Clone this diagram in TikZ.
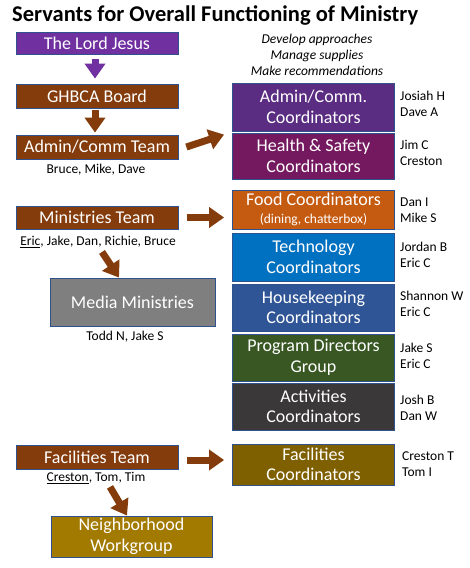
\documentclass[tikz,border=0pt]{standalone}
\usepackage{fontspec}
\setmainfont{Carlito}
\usetikzlibrary{arrows.meta}
\definecolor{bordc}{HTML}{2F528F}
\definecolor{cLord}{HTML}{7030A0}
\definecolor{cBrown}{HTML}{843C0C}
\definecolor{cAdmin}{HTML}{5A2C82}
\definecolor{cHealth}{HTML}{74195F}
\definecolor{cFood}{HTML}{C55A11}
\definecolor{cTech}{HTML}{0070C0}
\definecolor{cHouse}{HTML}{2F5597}
\definecolor{cProg}{HTML}{385723}
\definecolor{cAct}{HTML}{3A3838}
\definecolor{cMedia}{HTML}{7F7F7F}
\definecolor{cFacC}{HTML}{7F6000}
\definecolor{cNeigh}{HTML}{A27A00}
\tikzset{
  box/.style={draw=bordc, line width=0.8pt, text=white, inner sep=0pt, align=center,
    font=\fontsize{18}{20.5}\selectfont},
  lbox/.style={box, minimum width=162pt},
  rbox/.style={box, minimum width=162pt},
  names/.style={inner sep=0pt, align=left, anchor=west, font=\fontsize{13.5}{16}\selectfont},
  sub/.style={inner sep=0pt, align=center, font=\fontsize{13.5}{16}\selectfont},
  blockarrow/.style={line width=7pt, -{Triangle[width=20pt,length=15pt]}},
}
\begin{document}
\begin{tikzpicture}[x=1pt,y=-1pt]
\useasboundingbox (0,0) rectangle (470,568);
\node[anchor=west, inner sep=0pt, font=\bfseries\fontsize{22.5}{26}\selectfont] (title) at (12,15) {Servants for Overall Functioning of Ministry};

% left column
\node[lbox, fill=cLord, minimum height=22pt] (lord) at (97,43) {The Lord Jesus};
\node[lbox, fill=cBrown, minimum height=24pt] (board) at (97,96) {GHBCA Board};
\node[lbox, fill=cBrown, minimum height=24pt] (act) at (97,147) {Admin/Comm Team};
\node[sub] (actn) at (96,170) {Bruce, Mike, Dave};
\node[lbox, fill=cBrown, minimum height=23pt] (mt) at (97,217.5) {Ministries Team};
\node[sub] (mtn) at (98,242) {\underline{Eric}, Jake, Dan, Richie, Bruce};
\node[box, fill=cMedia, minimum width=165pt, minimum height=48pt] (media) at (132.5,302) {Media Ministries};
\node[sub] (median) at (125,337) {Todd N, Jake S};
\node[lbox, fill=cBrown, minimum height=24pt] (ft) at (97,457) {Facilities Team};
\node[sub] (ftn) at (96,478) {\underline{Creston}, Tom, Tim};
\node[box, fill=cNeigh, minimum width=161pt, minimum height=41pt] (nw) at (131.5,536.5) {Neighborhood\\Workgroup};

% right column
\node[sub, font=\itshape\fontsize{13.5}{16}\selectfont] (tasks) at (317,55) {Develop approaches\\Manage supplies\\Make recommendations};
\node[rbox, fill=cAdmin, minimum height=48pt] (acc) at (313.5,107) {Admin/Comm.\\Coordinators};
\node[rbox, fill=cHealth, minimum height=46pt] (hs) at (313.5,156) {Health \& Safety\\Coordinators};
\node[rbox, fill=cFood, minimum height=39pt] (food) at (313.5,209.5) {Food Coordinators\\[-3pt]{\fontsize{13.5}{16}\selectfont (dining, chatterbox)}};
\node[rbox, fill=cTech, minimum height=48pt] (tech) at (313.5,257) {Technology\\Coordinators};
\node[rbox, fill=cHouse, minimum height=47pt] (house) at (313.5,307.5) {Housekeeping\\Coordinators};
\node[rbox, fill=cProg, minimum height=47pt] (prog) at (313.5,357.5) {Program Directors\\Group};
\node[rbox, fill=cAct, minimum height=47pt] (acts) at (313.5,406.5) {Activities\\Coordinators};
\node[rbox, fill=cFacC, minimum height=41pt] (fc) at (313.5,464.5) {Facilities\\Coordinators};

\node[names] (n1) at (400,104) {Josiah H\\Dave A};
\node[names] (n2) at (400,153) {Jim C\\Creston};
\node[names] (n3) at (400,210) {Dan I\\Mike S};
\node[names] (n4) at (400,255) {Jordan B\\Eric C};
\node[names] (n5) at (400,304) {Shannon W\\Eric C};
\node[names] (n6) at (400,356) {Jake S\\Eric C};
\node[names] (n7) at (400,408) {Josh B\\Dan W};
\node[names] (n8) at (402,464) {Creston T\\Tom I};

% arrows
\draw[blockarrow, draw=cLord, fill=cLord, shorten <=5pt, shorten >=5pt] ([xshift=-2pt]lord.south) -- ([xshift=-2pt]board.north);
\draw[blockarrow, draw=cBrown, fill=cBrown, shorten <=2pt, shorten >=2pt] ([xshift=-2pt]board.south) -- ([xshift=-2pt]act.north);
\draw[blockarrow, draw=cBrown, fill=cBrown] ([shift={(8,0)}]act.east) -- ([shift={(-8,2)}]hs.north west);
\draw[blockarrow, draw=cBrown, fill=cBrown, shorten <=9pt, shorten >=8pt] (mt.east) -- (mt.east -| food.west);
\draw[blockarrow, draw=cBrown, fill=cBrown, shorten <=9pt, shorten >=8pt] ([shift={(0,3)}]ft.east) -- ([shift={(0,3)}]ft.east -| fc.west);
\draw[blockarrow, draw=cBrown, fill=cBrown] ([shift={(4,4)}]mtn.south) -- ([shift={(-13.5,0)}]media.north);
\draw[blockarrow, draw=cBrown, fill=cBrown] ([shift={(14,3)}]ftn.south) -- ([shift={(-4.5,0)}]nw.north);
\end{tikzpicture}
\end{document}
